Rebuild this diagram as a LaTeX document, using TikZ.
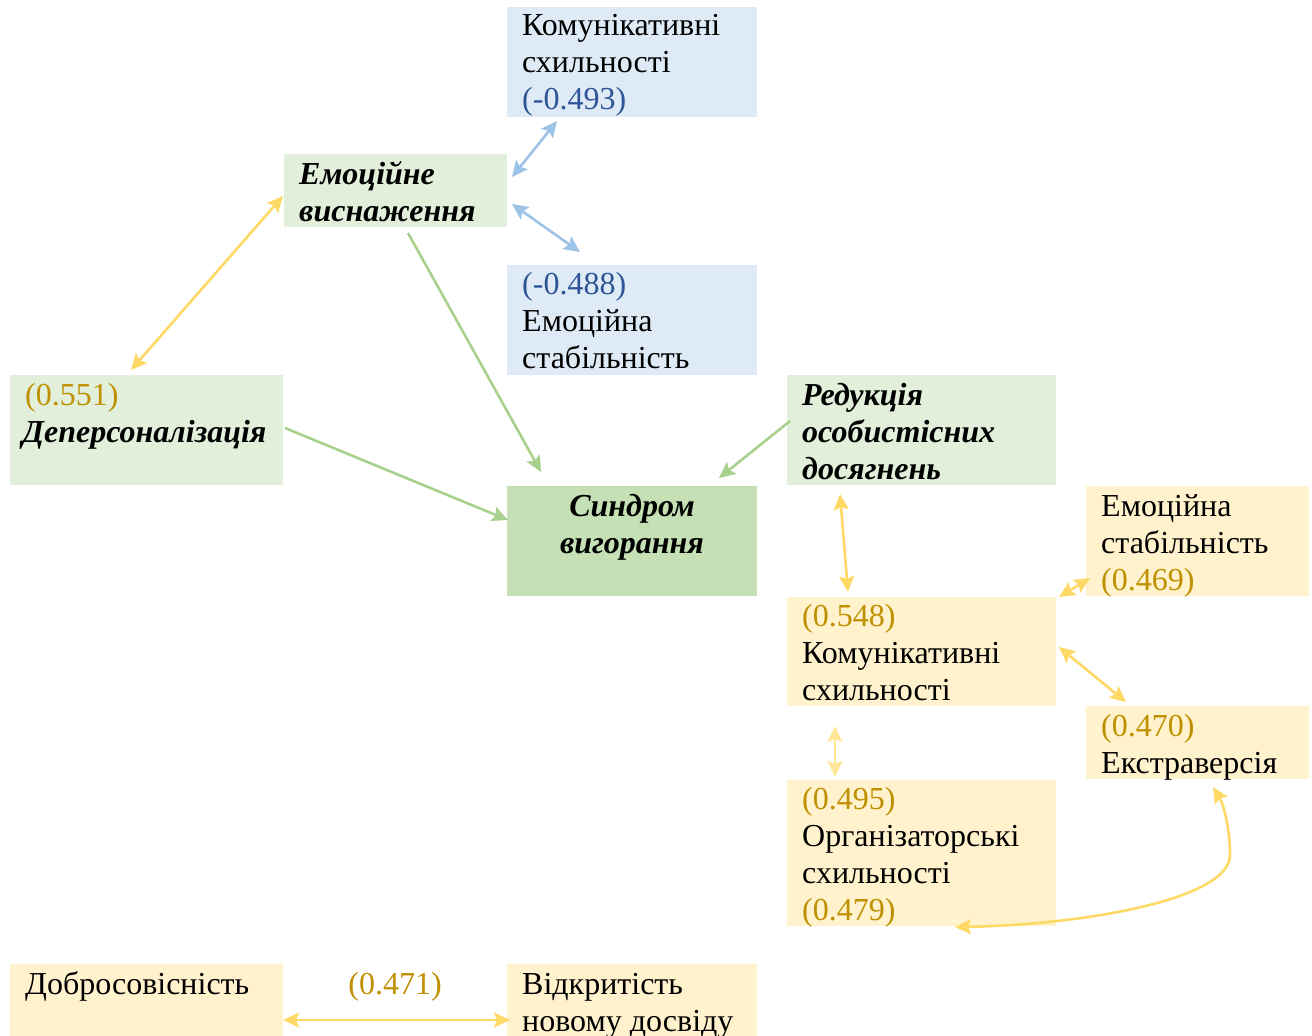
\documentclass[tikz,border=0pt]{standalone}
\usepackage{fontspec}
\setmainfont{Liberation Serif}
\usetikzlibrary{arrows.meta,calc}
\definecolor{gl}{HTML}{E2EFDA}
\definecolor{gd}{HTML}{C5E0B4}
\definecolor{bl}{HTML}{DEEBF7}
\definecolor{yl}{HTML}{FFF2CC}
\definecolor{gold}{HTML}{BF9000}
\definecolor{bnum}{HTML}{2F5597}
\definecolor{barr}{HTML}{9DC3E6}
\definecolor{yarr}{HTML}{FFD966}
\definecolor{parr}{HTML}{FFE699}
\definecolor{garr}{HTML}{A9D18E}
\begin{document}
\begin{tikzpicture}[x=1pt,y=-1pt,
  box/.style={draw=none,inner sep=0pt,outer sep=0pt,anchor=north west},
  txt/.style={anchor=north west,align=left,inner sep=0pt,font=\fontsize{32}{37}\selectfont},
  btxt/.style={txt,font=\fontsize{32}{37}\selectfont\bfseries\itshape},
  >={Stealth[length=16pt,width=15pt,inset=3pt]},
  arr/.style={line width=2.6pt}
]
\useasboundingbox (0,0) rectangle (1312,1036);
% boxes
\node[box,fill=bl,minimum width=250pt,minimum height=110pt] (kb) at (507,7) {};
\node[box,fill=gl,minimum width=223pt,minimum height=73pt] (ee) at (284,154) {};
\node[box,fill=bl,minimum width=250pt,minimum height=110pt] (es) at (507,265) {};
\node[box,fill=gl,minimum width=273pt,minimum height=110pt] (dp) at (10,375) {};
\node[box,fill=gl,minimum width=269pt,minimum height=110pt] (rd) at (787,375) {};
\node[box,fill=gd,minimum width=250pt,minimum height=110pt] (sv) at (507,486) {};
\node[box,fill=yl,minimum width=223pt,minimum height=110pt] (ys) at (1086,486) {};
\node[box,fill=yl,minimum width=269pt,minimum height=109pt] (ks) at (787,597) {};
\node[box,fill=yl,minimum width=223pt,minimum height=73pt] (ex) at (1086,706) {};
\node[box,fill=yl,minimum width=269pt,minimum height=146pt] (os) at (787,780) {};
\node[box,fill=yl,minimum width=273pt,minimum height=72pt] (db) at (10,964) {};
\node[box,fill=yl,minimum width=250pt,minimum height=72pt] (vd) at (507,964) {};
% texts
\node[txt] (kbt) at ($(kb.north west)+(15,2)$) {\strut Комунікативні\\схильності\\\textcolor{bnum}{(-0.493)}};
\node[btxt] (eet) at ($(ee.north west)+(15,4)$) {\strut Емоційне\\виснаження};
\node[txt] (est) at ($(es.north west)+(15,3)$) {\strut\textcolor{bnum}{(-0.488)}\\Емоційна\\стабільність};
\node[txt] (dpn) at ($(dp.north west)+(15,4)$) {\strut\textcolor{gold}{(0.551)}};
\node[btxt] (dpt) at ($(dp.north west)+(12,41)$) {\strut Деперсоналізація};
\node[btxt] (rdt) at ($(rd.north west)+(15,4)$) {\strut Редукція\\особистісних\\досягнень};
\node[btxt,anchor=north,align=center] (svt) at ($(sv.north)+(0,4)$) {\strut Синдром\\вигорання};
\node[txt] (yst) at ($(ys.north west)+(15,4)$) {\strut Емоційна\\стабільність\\\textcolor{gold}{(0.469)}};
\node[txt] (kst) at ($(ks.north west)+(15,3)$) {\strut\textcolor{gold}{(0.548)}\\Комунікативні\\схильності};
\node[txt] (ext) at ($(ex.north west)+(15,4)$) {\strut\textcolor{gold}{(0.470)}\\Екстраверсія};
\node[txt] (ost) at ($(os.north west)+(15,3)$) {\strut\textcolor{gold}{(0.495)}\\Організаторські\\схильності\\\textcolor{gold}{(0.479)}};
\node[txt] (dbt) at ($(db.north west)+(15,4)$) {\strut Добросовісність};
\node[txt] (vdt) at ($(vd.north west)+(15,4)$) {\strut Відкритість\\новому досвіду};
\node[txt,anchor=north,text=gold] (r471) at ($(db.north east)!0.5!(vd.north west)+(0,4)$) {\strut(0.471)};
% connectors
\draw[arr,barr,<->] ($(kb.south west)+(50,4)$) -- ($(ee.north east)+(5,23)$);
\draw[arr,barr,<->] ($(ee.north east)+(5,50)$) -- ($(es.north west)+(73,-13)$);
\draw[arr,yarr,<->] ($(ee.north west)+(-1,42)$) -- ($(dp.north west)+(121,-5)$);
\draw[arr,garr,->] ($(ee.south west)+(124,6)$) -- ($(sv.north west)+(34,-14)$);
\draw[arr,garr,->] ($(dp.north east)+(2,53)$) -- ($(sv.north west)+(1,34)$);
\draw[arr,garr,->] ($(rd.north west)+(3,46)$) -- ($(sv.north east)+(-38,-8)$);
\draw[arr,yarr,<->] ($(rd.south west)+(53,9)$) -- ($(ks.north west)+(61,-5)$);
\draw[arr,yarr,<->] ($(ks.north east)+(3,0)$) -- ($(ys.south west)+(4,-18)$);
\draw[arr,yarr,<->] ($(ks.north east)+(3,50)$) -- ($(ex.north west)+(40,-4)$);
\draw[arr,parr,<->] ($(ks.south west)+(48,20)$) -- ($(os.north west)+(48,-3)$);
\draw[arr,yarr,<->] ($(ex.south west)+(127,8)$) .. controls (1224,805) and (1230,830) .. (1230,855) .. controls (1230,900) and (1080,925) .. ($(os.south west)+(168,1)$);
\draw[arr,yarr,<->] ($(db.south east)+(0,-16)$) -- ($(vd.south west)+(3,-16)$);
\end{tikzpicture}
\end{document}
